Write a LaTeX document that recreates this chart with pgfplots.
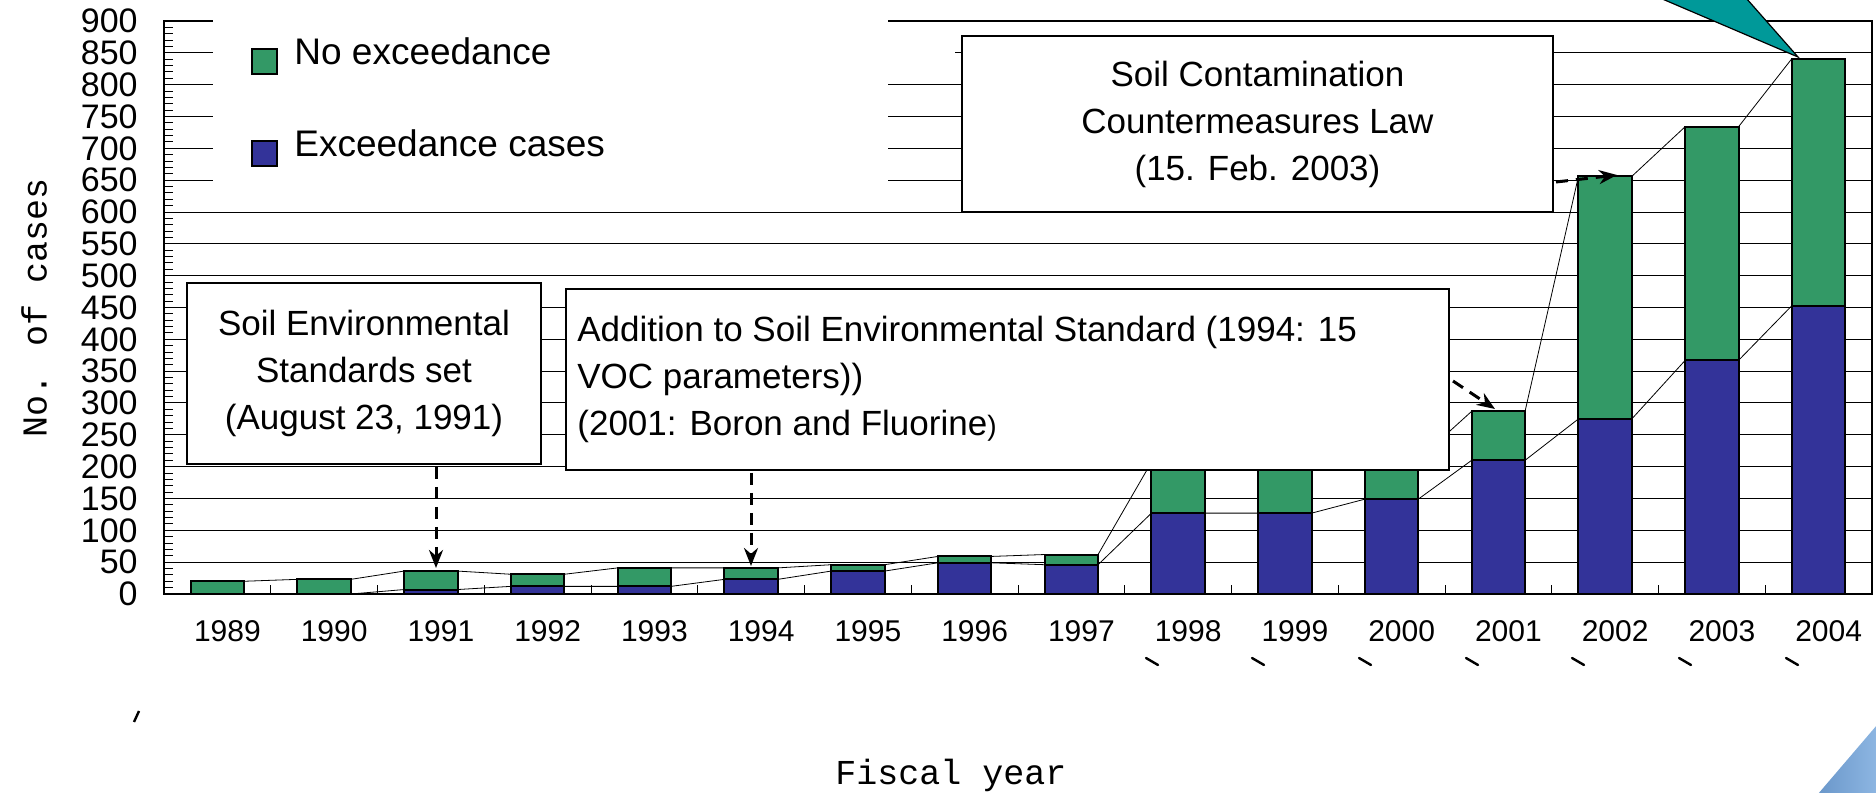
\documentclass[border=0pt]{standalone}
\usepackage{fontspec}
\setmainfont{Liberation Sans}
\newfontfamily\jmono{Liberation Mono}
\usepackage{pgfplots}
\usepackage{pgfplotstable}
\pgfplotsset{compat=1.18}
\usetikzlibrary{arrows.meta}
\definecolor{gr}{HTML}{339966}
\definecolor{bl}{HTML}{333399}
\definecolor{tealc}{HTML}{009999}
\definecolor{lbA}{HTML}{6A97CA}
\definecolor{lbB}{HTML}{8DB6E2}

\pgfplotstableread{
idx exc total
0 0 20
1 0 23
2 7 36
3 12 31
4 12 41
5 23 41
6 36 46
7 49 59
8 46 62
9 127 207
10 127 210
11 149 211
12 210 287
13 275 656
14 367 734
15 453 841
}\casedata

\begin{document}
\begin{tikzpicture}
\useasboundingbox (0,0) rectangle (938pt,396.5pt);
\begin{axis}[
  at={(82pt,99.5pt)}, anchor=south west,
  scale only axis, width=854pt, height=286.5pt,
  xmin=-0.5, xmax=15.5, ymin=0, ymax=900,
  ybar, bar shift=0pt, bar width=0.5,
  axis line style={line width=1pt},
  ytick={0,50,...,900},
  minor y tick num=4,
  ymajorgrids,
  major grid style={black, line width=0.5pt},
  xtick={0,...,15},
  xticklabels={1989,1990,1991,1992,1993,1994,1995,1996,1997,1998,1999,2000,2001,2002,2003,2004},
  minor xtick={0.5,1.5,...,14.5},
  tick pos=left,
  tick align=inside,
  major tick length=0pt,
  minor tick length=4.5pt,
  minor tick style={black, line width=0.5pt},
  /pgf/number format/assume math mode=true,
  yticklabel style={font=\fontsize{17}{17}\selectfont, anchor=east, inner sep=0pt, xshift=-13pt},
  xticklabel style={font=\fontsize{15}{15}\selectfont, anchor=north, inner sep=0pt, yshift=-13pt, xshift=5pt},
  clip=false,
]
\addplot[fill=gr, draw=black, line width=1pt] table[x=idx, y=total]{\casedata};
\addplot[fill=bl, draw=black, line width=1pt] table[x=idx, y=exc]{\casedata};
\addplot[sharp plot, black, line width=0.4pt, mark=none] coordinates {
 (-0.25,20)(0.25,20)(0.75,23)(1.25,23)(1.75,36)(2.25,36)(2.75,31)(3.25,31)
 (3.75,41)(4.25,41)(4.75,41)(5.25,41)(5.75,46)(6.25,46)(6.75,59)(7.25,59)
 (7.75,62)(8.25,62)(8.75,207)(9.25,207)(9.75,210)(10.25,210)(10.75,211)(11.25,211)
 (11.75,287)(12.25,287)(12.75,656)(13.25,656)(13.75,734)(14.25,734)(14.75,841)(15.25,841)};
\addplot[sharp plot, black, line width=0.4pt, mark=none] coordinates {
 (-0.25,0)(0.25,0)(0.75,0)(1.25,0)(1.75,7)(2.25,7)(2.75,12)(3.25,12)
 (3.75,12)(4.25,12)(4.75,23)(5.25,23)(5.75,36)(6.25,36)(6.75,49)(7.25,49)
 (7.75,46)(8.25,46)(8.75,127)(9.25,127)(9.75,127)(10.25,127)(10.75,149)(11.25,149)
 (11.75,210)(12.25,210)(12.75,275)(13.25,275)(13.75,367)(14.25,367)(14.75,453)(15.25,453)};
\end{axis}

\begin{scope}[x=0.5pt, y=-0.5pt, yshift=396.5pt]
  % legend area
  \fill[white] (213,13) rectangle (888,193);
  \fill[white] (888,42) rectangle (955,66);
  \draw[fill=gr, line width=1pt] (252,49) rectangle (277,74);
  \draw[fill=bl, line width=1pt] (252,141) rectangle (277,166);
  \node[anchor=base west, inner sep=0pt, font=\fontsize{18.5}{18.5}\selectfont] at (294,64.5) {No exceedance};
  \node[anchor=base west, inner sep=0pt, font=\fontsize{18.5}{18.5}\selectfont] at (294,157) {Exceedance cases};
  % boxes
  \draw[fill=white, line width=1.2pt] (187,283) rectangle (541,464);
  \node[align=center, inner sep=0pt, font=\fontsize{17.5}{23.5}\selectfont] at (364,373.5)
    {Soil Environmental\\Standards set\\(August 23, 1991)};
  \draw[fill=white, line width=1.2pt] (566,289) rectangle (1449,470);
  \node[align=left, anchor=west, inner sep=0pt, font=\fontsize{17.5}{23.5}\selectfont] at (577,379.5)
    {Addition to Soil Environmental Standard (1994: 15\\VOC parameters))\\(2001: Boron and Fluorine{\fontsize{14}{14}\selectfont)}};
  \draw[fill=white, line width=1.2pt] (962,36) rectangle (1553,212);
  \node[align=center, inner sep=0pt, font=\fontsize{17.5}{23.5}\selectfont] at (1257.5,124)
    {Soil Contamination\\Countermeasures Law\\(15. Feb. 2003)};
  % arrows
  \tikzset{arr/.style={line width=1.5pt, dash pattern=on 6pt off 4pt, -{Stealth[length=9pt,width=7pt]}}}
  \draw[arr] (436,467) -- (436,568);
  \draw[arr] (751,473) -- (751,566);
  \draw[arr] (1453,381) -- (1495,409);
  \draw[arr] (1556,182) -- (1617,175);
  % teal callout
  \draw[fill=tealc, line width=0.6pt, line join=miter] (1660,-2) -- (1798,57) -- (1746,-2);
  % corner triangle
  \shade[left color=lbA, right color=lbB] (1818,794) -- (1877,794) -- (1877,725) -- cycle;
  % axis titles
  \node[rotate=90, inner sep=0pt, font=\jmono\fontsize{17.5}{17.5}\selectfont] at (34,308) {No. of cases};
  \node[inner sep=0pt, font=\jmono\fontsize{17.5}{17.5}\selectfont] at (951,775) {Fiscal year};
  % stray marks
  \foreach \c in {1152,1258,1365,1472,1578,1685,1792}
    \draw[line width=1.2pt, line cap=round] (\c-6,658) -- (\c+6,665);
  \draw[line width=1.2pt] (134,722) -- (139,711);
\end{scope}
\end{tikzpicture}
\end{document}
